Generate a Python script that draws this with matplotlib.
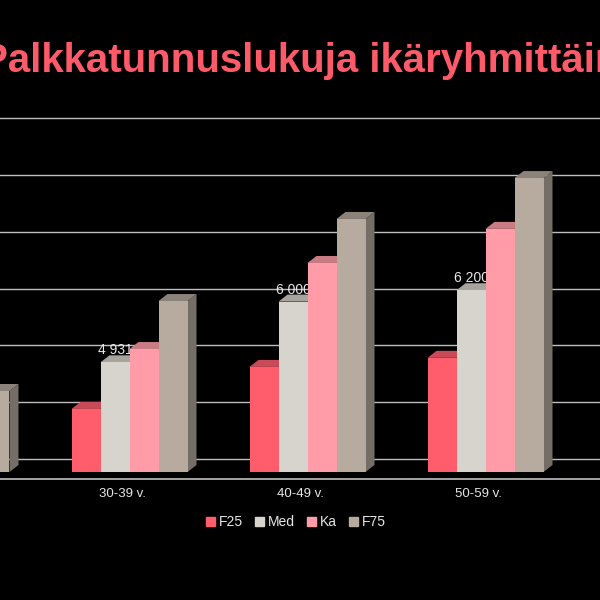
import matplotlib
matplotlib.use("Agg")
import matplotlib.pyplot as plt
from matplotlib.patches import Polygon, Patch

plt.rcParams["font.family"] = ["Liberation Sans", "DejaVu Sans"]

title = "Palkkatunnuslukuja ikäryhmittäin"
groups = ["20-29 v.", "30-39 v.", "40-49 v.", "50-59 v."]
series = ["F25", "Med", "Ka", "F75"]
f25 = [3300, 4110, 4850, 5010]
med = [3800, 4931, 6000, 6200]
ka = [3950, 5165, 6680, 7280]
f75 = [4426, 6010, 7455, 8175]
med_labels = ["", "4 931", "6 000", "6 200"]
y_ticks = [3000, 4000, 5000, 6000, 7000, 8000, 9000]

values = [f25, med, ka, f75]
front = ["#FF5C6C", "#D7D3CD", "#FF9CA7", "#B6AB9E"]
top = ["#C94B57", "#A7A49E", "#C97C84", "#8B837A"]
side = ["#B8404C", "#9A968F", "#B56F77", "#756E67"]

# pixel geometry of the original slide
PX_X = 178.0          # pixels per category
PX_Y = 56.8 / 1000    # pixels per value unit
base = 3000
w = 29 / PX_X
dx = 9 / PX_X
dy = 7 / PX_Y
wall = 13 / PX_Y

fig = plt.figure(figsize=(6, 6), dpi=100, facecolor="black")
ax = fig.add_axes([0, 0.2, 1, 380 / 600])
ax.set_facecolor("black")

for v in y_ticks:
    ax.axhline(v + wall, color="#BFBFBF", lw=1.0, zorder=0)
ax.axhline(base - 7 / PX_Y, color="#BFBFBF", lw=1.2, zorder=0)

for i in range(len(groups)):
    for k in range(len(series)):
        v = values[k][i]
        x0 = i + (k - 2) * w
        x1 = x0 + w
        z = 2 + k
        ax.add_patch(Polygon([(x1, base), (x1 + dx, base + dy), (x1 + dx, v + dy), (x1, v)],
                             closed=True, fc=side[k], ec="none", zorder=z))
        ax.add_patch(Polygon([(x0, v), (x0 + dx, v + dy), (x1 + dx, v + dy), (x1, v)],
                             closed=True, fc=top[k], ec="none", zorder=z))
        ax.bar(x0, v - base, width=w, bottom=base, align="edge", color=front[k],
               lw=0, zorder=z)
    if med_labels[i]:
        ax.text(i - w / 2, med[i] + 12 / PX_Y, med_labels[i], ha="center", va="center",
                fontsize=10, color="#E8E8E8", zorder=3.5)

ax.set_xticks([i - 7 / PX_X for i in range(len(groups))])
ax.set_xticklabels(groups, fontsize=9.5, color="#E6E6E6")
ax.tick_params(axis="x", length=0, pad=6)
ax.set_yticks([])
ax.set_xlim(48.5 / PX_X, 648.5 / PX_X)
ax.set_ylim(base - 8 / PX_Y, base + 372 / PX_Y)
for s in ax.spines.values():
    s.set_visible(False)

fig.text(0.5, 1 - 72 / 600, title, ha="center", va="baseline", fontsize=29,
         fontweight="bold", color="#FF5A69")

handles = [Patch(color=front[k], label=series[k]) for k in range(len(series))]
fig.legend(handles=handles, loc="center", bbox_to_anchor=(296 / 600, 1 - 522.5 / 600),
           ncol=4, frameon=False, fontsize=10, labelcolor="#E6E6E6",
           handlelength=0.6, handleheight=0.6, handletextpad=0.3, columnspacing=0.9)

fig.savefig("out.png", dpi=100, facecolor="black")
